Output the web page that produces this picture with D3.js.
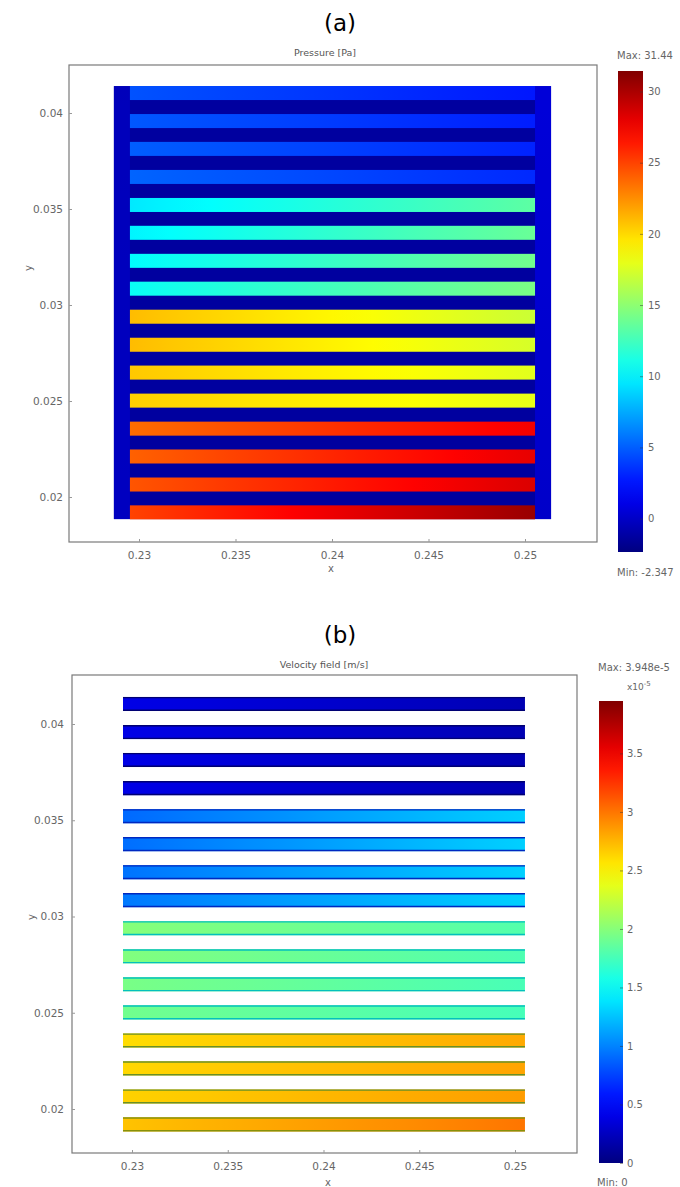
<!DOCTYPE html>
<html><head><meta charset="utf-8">
<script src="https://cdn.jsdelivr.net/npm/d3@7"></script>
<style>body{margin:0;background:#fff} text{font-family:"DejaVu Sans",Verdana,sans-serif}</style>
</head><body><svg id="c" width="680" height="1187"></svg>
<script>
// ---------- data ----------
const xTicks = [0.23, 0.235, 0.24, 0.245, 0.25];
const yTicks = [0.02, 0.025, 0.03, 0.035, 0.04];
// channel centre y positions [m], top to bottom
const channelCenters = [0.04104, 0.03958, 0.03813, 0.03667, 0.03521, 0.03376, 0.0323, 0.03085,
                        0.02939, 0.02793, 0.02648, 0.02502, 0.02356, 0.02211, 0.02065, 0.0192];
const channelHeight = 0.00073;
const channelX = [0.22953, 0.25052];
const domainX = [0.2287, 0.25135];
const domainY = [0.01885, 0.0414];
// pressure [Pa] at channel inlet (left) and outlet (right)
const pressureLeft  = [4.6, 4.8, 5.0, 5.2, 9.6, 10.0, 10.3, 10.6, 21.0, 21.0, 20.6, 20.4, 23.6, 24.0, 24.4, 25.0];
const pressureRight = [2.6, 2.8, 3.0, 3.2, 13.4, 13.8, 14.1, 14.4, 17.0, 17.4, 17.8, 18.0, 27.6, 28.0, 28.4, 30.6];
const pressureGap = -1.3;
const pressureLeftColumn = [-0.4, -0.2];   // top, bottom
const pressureRightColumn = [0.6, 0.1];    // top, bottom
const pressureRange = [-2.347, 31.44];
const pressureBarTicks = [0, 5, 10, 15, 20, 25, 30];
// velocity [1e-5 m/s]
const velocityLeft  = [0.40, 0.40, 0.40, 0.40, 0.90, 0.92, 0.94, 0.96, 2.00, 1.98, 1.95, 1.92, 2.60, 2.62, 2.64, 2.70];
const velocityRight = [0.20, 0.20, 0.20, 0.20, 1.30, 1.30, 1.30, 1.30, 1.80, 1.78, 1.76, 1.75, 2.80, 2.82, 2.85, 3.00];
const velocityEdge  = [0.10, 0.10, 0.10, 0.10, 0.70, 0.70, 0.70, 0.70, 1.50, 1.50, 1.50, 1.50, 2.20, 2.20, 2.20, 2.40];
const velocityRange = [0, 3.948];
const velocityBarTicks = [0, 0.5, 1, 1.5, 2, 2.5, 3, 3.5];

// ---------- helpers ----------
const FONT = '"DejaVu Sans",Verdana,sans-serif';
const clamp = v => Math.max(0, Math.min(1, v));
const jet = t => d3.rgb(255 * clamp(1.5 - Math.abs(4 * t - 3)),
                        255 * clamp(1.5 - Math.abs(4 * t - 2)),
                        255 * clamp(1.5 - Math.abs(4 * t - 1))).formatHex();
const svg = d3.select("#c");
const defs = svg.append("defs");
svg.append("rect").attr("width", 680).attr("height", 1187).attr("fill", "#fff");
let gid = 0;
function hGrad(color, a, b) {
  const id = "g" + (gid++);
  const g = defs.append("linearGradient").attr("id", id).attr("x1", 0).attr("x2", 1).attr("y1", 0).attr("y2", 0);
  d3.range(0, 1.0001, 0.1).forEach(s => g.append("stop").attr("offset", s).attr("stop-color", color(a + (b - a) * s)));
  return "url(#" + id + ")";
}
function vGrad(color, top, bottom) {
  const id = "g" + (gid++);
  const g = defs.append("linearGradient").attr("id", id).attr("x1", 0).attr("x2", 0).attr("y1", 0).attr("y2", 1);
  d3.range(0, 1.0001, 0.05).forEach(s => g.append("stop").attr("offset", s).attr("stop-color", color(top + (bottom - top) * s)));
  return "url(#" + id + ")";
}

function panel(o) {
  const g = svg.append("g");
  const x = d3.scaleLinear().domain([0.23, 0.25]).range(o.xr);
  const y = d3.scaleLinear().domain([0.02, 0.04]).range(o.yr);
  const color = d3.scaleSequential(jet).domain(o.range);

  // titles
  g.append("text").attr("x", 340).attr("y", o.headY).attr("text-anchor", "middle")
    .attr("font-size", 23).attr("fill", "#000").attr("font-family", '"Liberation Sans",Arial,sans-serif').text(o.head);
  g.append("text").attr("x", o.titleX).attr("y", o.titleY).attr("text-anchor", "middle")
    .attr("font-size", 9.5).attr("fill", "#555").text(o.title);

  // field
  o.draw(g, x, y, color);

  // frame
  g.append("rect").attr("x", o.box[0]).attr("y", o.box[1])
    .attr("width", o.box[2] - o.box[0]).attr("height", o.box[3] - o.box[1])
    .attr("fill", "none").attr("stroke", "#7a7a7a").attr("stroke-width", 1.2);

  // axes
  const ax = g.append("g").attr("transform", `translate(0,${o.box[3]})`)
    .call(d3.axisBottom(x).tickValues(xTicks).tickFormat(d => String(d)).tickSizeInner(-3).tickSizeOuter(0).tickPadding(o.xPad));
  const ay = g.append("g").attr("transform", `translate(${o.box[0]},0)`)
    .call(d3.axisLeft(y).tickValues(yTicks).tickFormat(d => String(d)).tickSizeInner(-3).tickSizeOuter(0).tickPadding(o.yPad));
  [ax, ay].forEach(a => {
    a.select(".domain").remove();
    a.selectAll("line").attr("stroke", "#999");
    a.selectAll("text").attr("font-size", 10.5).attr("fill", "#666").attr("font-family", FONT);
  });
  g.append("text").attr("x", o.xLab[0]).attr("y", o.xLab[1]).attr("text-anchor", "middle")
    .attr("font-size", 10).attr("fill", "#666").text("x");
  g.append("text").attr("transform", `translate(${o.yLab[0]},${o.yLab[1]}) rotate(-90)`).attr("text-anchor", "middle")
    .attr("font-size", 10).attr("fill", "#666").text("y");

  // colour bar
  const cb = o.cbar;
  const cy = d3.scaleLinear().domain(o.range).range([cb.bottom, cb.top]);
  g.append("rect").attr("x", cb.x).attr("y", cb.top).attr("width", cb.w).attr("height", cb.bottom - cb.top)
    .attr("fill", vGrad(color, o.range[1], o.range[0]));
  const cax = g.append("g").attr("transform", `translate(${cb.x + cb.w},0)`)
    .call(d3.axisRight(cy).tickValues(o.barTicks).tickFormat(d => String(d)).tickSizeInner(-3).tickSizeOuter(0).tickPadding(cb.pad));
  cax.select(".domain").remove();
  cax.selectAll("line").attr("stroke", "#333").attr("stroke-opacity", 0.5);
  cax.selectAll("text").attr("font-size", 10).attr("fill", "#666").attr("font-family", FONT);
  g.append("text").attr("x", cb.maxX).attr("y", cb.maxY).attr("font-size", 10).attr("fill", "#666").text(o.maxText);
  g.append("text").attr("x", cb.minX).attr("y", cb.minY).attr("font-size", 10).attr("fill", "#666").text(o.minText);
  if (o.exp) {
    const t = g.append("text").attr("x", o.exp[0]).attr("y", o.exp[1]).attr("font-size", 9).attr("fill", "#666");
    t.append("tspan").text("x10");
    t.append("tspan").attr("dy", -4).attr("font-size", 7).text("-5");
  }
}

// ---------- (a) pressure ----------
panel({
  head: "(a)", headY: 31, title: "Pressure [Pa]", titleX: 325, titleY: 56,
  xr: [139, 525], yr: [497, 113], box: [69, 65, 597, 542], yPad: 6, xPad: 10,
  xLab: [331, 572], yLab: [32, 268],
  range: pressureRange, barTicks: pressureBarTicks,
  maxText: "Max: 31.44", minText: "Min: -2.347",
  cbar: { x: 618, w: 25, top: 71, bottom: 552, pad: 5, maxX: 617, maxY: 59, minX: 617, minY: 576 },
  draw: (g, x, y, color) => {
    g.append("rect").attr("x", x(domainX[0])).attr("y", y(domainY[1]))
      .attr("width", x(domainX[1]) - x(domainX[0])).attr("height", y(domainY[0]) - y(domainY[1]))
      .attr("fill", color(pressureGap));
    g.append("rect").attr("x", x(domainX[0])).attr("y", y(domainY[1]))
      .attr("width", x(channelX[0]) - x(domainX[0])).attr("height", y(domainY[0]) - y(domainY[1]))
      .attr("fill", vGrad(color, pressureLeftColumn[0], pressureLeftColumn[1]));
    g.append("rect").attr("x", x(channelX[1])).attr("y", y(domainY[1]))
      .attr("width", x(domainX[1]) - x(channelX[1])).attr("height", y(domainY[0]) - y(domainY[1]))
      .attr("fill", vGrad(color, pressureRightColumn[0], pressureRightColumn[1]));
    channelCenters.forEach((c, i) => {
      g.append("rect").attr("x", x(channelX[0])).attr("y", y(c + channelHeight / 2))
        .attr("width", x(channelX[1]) - x(channelX[0])).attr("height", y(c - channelHeight / 2) - y(c + channelHeight / 2))
        .attr("fill", hGrad(color, pressureLeft[i], pressureRight[i]));
    });
  }
});

// ---------- (b) velocity ----------
panel({
  head: "(b)", headY: 643, title: "Velocity field [m/s]", titleX: 324, titleY: 668,
  xr: [132, 515], yr: [1109, 724], box: [72, 675, 577, 1153], yPad: 8, xPad: 10,
  xLab: [328, 1186], yLab: [35, 917],
  range: velocityRange, barTicks: velocityBarTicks,
  maxText: "Max: 3.948e-5", minText: "Min: 0", exp: [627, 690],
  cbar: { x: 599, w: 24, top: 701, bottom: 1163, pad: 4, maxX: 598, maxY: 671, minX: 597, minY: 1186 },
  draw: (g, x, y, color) => {
    channelCenters.forEach((c, i) => {
      const y0 = y(c + channelHeight / 2), y1 = y(c - channelHeight / 2);
      const x0 = x(channelX[0]), x1 = x(channelX[1]);
      g.append("rect").attr("x", x0).attr("y", y0).attr("width", x1 - x0).attr("height", y1 - y0)
        .attr("fill", hGrad(color, velocityLeft[i], velocityRight[i]));
      [y0 + 0.7, y1 - 0.7].forEach(yy => {
        g.append("line").attr("x1", x0).attr("x2", x1).attr("y1", yy).attr("y2", yy)
          .attr("stroke", d3.color(color(velocityEdge[i])).darker(i >= 12 ? 1.6 : 0.8)).attr("stroke-width", 1.4);
      });
    });
  }
});
</script></body></html>
